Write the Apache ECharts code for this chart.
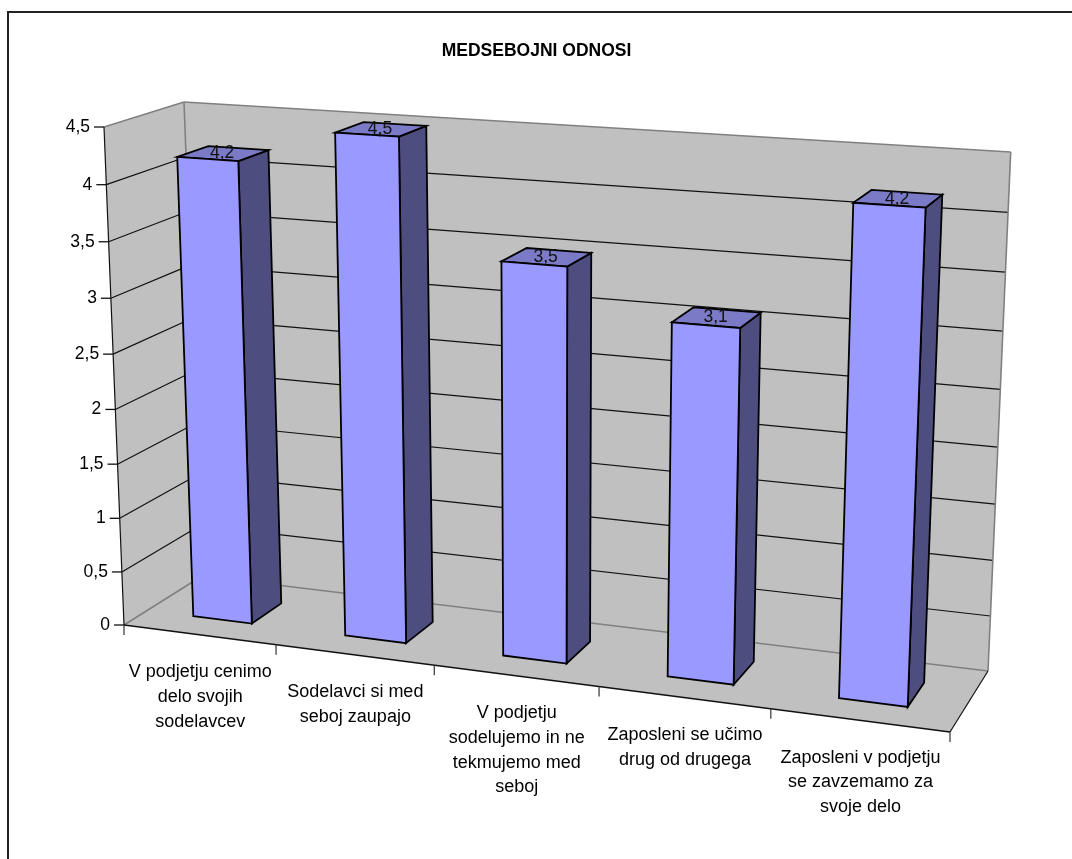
<!DOCTYPE html>
<html>
<head>
<meta charset="utf-8">
<style>html,body{margin:0;padding:0;background:#fff}#chart{width:1072px;height:859px}</style>
<script src="https://cdn.jsdelivr.net/npm/echarts@6/dist/echarts.min.js"></script>
</head>
<body>
<div id="chart"></div>
<script>
const chartTitle = 'MEDSEBOJNI ODNOSI';
const categories = [
  'V podjetju cenimo\ndelo svojih\nsodelavcev',
  'Sodelavci si med\nseboj zaupajo',
  'V podjetju\nsodelujemo in ne\ntekmujemo med\nseboj',
  'Zaposleni se učimo\ndrug od drugega',
  'Zaposleni v podjetju\nse zavzemamo za\nsvoje delo'
];
const scores = [4.2, 4.5, 3.5, 3.1, 4.2];
const valueTicks = [0, 0.5, 1, 1.5, 2, 2.5, 3, 3.5, 4, 4.5];

// Corners of the 3D plot box on screen: [bottom-left, bottom-right, top-right, top-left]
const frontPlane = [[124, 625], [950, 732], [972, 183], [104, 127]];
const backPlane = [[202, 576], [988, 671], [1010.7, 152], [184, 102]];
// A bar's extent inside its category band (from the band centre) and inside the box depth
const barLeft = -0.19, barRight = 0.2;
const barFront = 0.3, barBack = 0.7;
const FONT = '"Liberation Sans", Arial, sans-serif';
const FONT_SIZE = 17.5;
const CATEGORY_FONT_SIZE = 18;

// Homography from the unit square onto a quadrilateral
function unitSquareMap(q) {
  const [[x0, y0], [x1, y1], [x2, y2], [x3, y3]] = q;
  const dx1 = x1 - x2, dx2 = x3 - x2, sx = x0 - x1 + x2 - x3;
  const dy1 = y1 - y2, dy2 = y3 - y2, sy = y0 - y1 + y2 - y3;
  const det = dx1 * dy2 - dx2 * dy1;
  const g = (sx * dy2 - dx2 * sy) / det;
  const h = (dx1 * sy - sx * dy1) / det;
  const a = x1 - x0 + g * x1, b = x3 - x0 + h * x3;
  const d = y1 - y0 + g * y1, e = y3 - y0 + h * y3;
  return (u, v) => {
    const w = g * u + h * v + 1;
    return [(a * u + b * v + x0) / w, (d * u + e * v + y0) / w];
  };
}
const frontMap = unitSquareMap(frontPlane);
const backMap = unitSquareMap(backPlane);

// Hidden cartesian rectangle: its scales turn data into unit coordinates
const gridRect = { left: 100, top: 100, width: 800, height: 500 };
const bandUnit = 1 / categories.length;

function toUnit(pt) {
  return [(pt[0] - gridRect.left) / gridRect.width,
          (gridRect.top + gridRect.height - pt[1]) / gridRect.height];
}
function project(u, v, depth) {
  const f = frontMap(u, v), b = backMap(u, v);
  return [f[0] + (b[0] - f[0]) * depth, f[1] + (b[1] - f[1]) * depth];
}
function poly(points, fill, stroke, lw) {
  return { type: 'polygon', shape: { points },
    style: { fill, stroke: stroke || null, lineWidth: lw || 0, lineJoin: 'miter' } };
}
function seg(a, b, stroke, lw) {
  return { type: 'line', shape: { x1: a[0], y1: a[1], x2: b[0], y2: b[1] },
    style: { stroke, lineWidth: lw || 1, fill: null } };
}
function label(text, x, y, align, size, fill) {
  return { type: 'text', x, y, silent: true,
    style: { text, fill: fill || '#000', font: (size || FONT_SIZE) + 'px ' + FONT,
      align, verticalAlign: 'middle' } };
}

// Walls, floor, grid lines, axis ticks and axis labels
function renderFrame(params, api) {
  const wall = '#c0c0c0', edge = '#808080';
  const children = [];
  children.push(poly([project(0, 0, 0), project(0, 0, 1), project(0, 1, 1), project(0, 1, 0)], wall));
  children.push(poly([project(0, 0, 1), project(1, 0, 1), project(1, 1, 1), project(0, 1, 1)], wall));
  children.push(poly([project(0, 0, 0), project(1, 0, 0), project(1, 0, 1), project(0, 0, 1)], wall));

  valueTicks.forEach(tick => {
    const v = toUnit(api.coord([0, tick]))[1];
    const top = tick === valueTicks[valueTicks.length - 1];
    const base = tick === 0;
    const col = base || top ? edge : '#111';
    const lw = base || top ? 1.6 : 1.2;
    children.push(seg(project(0, v, 0), project(0, v, 1), col, lw));
    children.push(seg(project(0, v, 1), project(1, v, 1), col, lw));
    const p = project(0, v, 0);
    children.push(seg([p[0] - 10, p[1]], p, '#111', 1.3));
    children.push(label(String(tick).replace('.', ','), p[0] - 14, p[1], 'right'));
  });
  children.push(seg(project(0, 0, 1), project(0, 1, 1), edge, 1.6));
  children.push(seg(project(1, 0, 1), project(1, 1, 1), edge, 1.6));
  children.push(seg(project(0, 0, 0), project(0, 1, 0), '#111', 1.2));
  children.push(seg(project(0, 0, 0), project(1, 0, 0), '#111', 1.4));
  children.push(seg(project(1, 0, 0), project(1, 0, 1), '#111', 1.2));

  // Category ticks and wrapped labels below the front edge of the floor
  for (let i = 0; i <= categories.length; i++) {
    const p = project(i * bandUnit, 0, 0);
    children.push(seg(p, [p[0], p[1] + 10], '#333', 1.2));
  }
  categories.forEach((name, i) => {
    const c = toUnit(api.coord([i, 0]))[0];
    const p = project(c, 0, 0);
    name.split('\n').forEach((line, k) => {
      children.push(label(line, p[0] + 1, p[1] + 37.5 + k * 24.7, 'center', CATEGORY_FONT_SIZE));
    });
  });
  return { type: 'group', children };
}

// One solid bar: top, front and side faces plus the value on the lid
function renderBar(params, api) {
  const idx = api.value(0), val = api.value(1);
  const uc = toUnit(api.coord([idx, val]));
  const u0 = uc[0] + bandUnit * barLeft, u1 = uc[0] + bandUnit * barRight, v = uc[1];
  const line = '#000', lw = 1.8;
  const lidCentre = project(uc[0], v, 0.5);
  return { type: 'group', children: [
    poly([project(u1, 0, barFront), project(u1, 0, barBack), project(u1, v, barBack), project(u1, v, barFront)], '#4d4d80', line, lw),
    poly([project(u0, v, barFront), project(u1, v, barFront), project(u1, v, barBack), project(u0, v, barBack)], '#7a7ac6', line, lw),
    poly([project(u0, 0, barFront), project(u1, 0, barFront), project(u1, v, barFront), project(u0, v, barFront)], '#9999ff', line, lw),
    label(String(val).replace('.', ','), lidCentre[0], lidCentre[1], 'center', FONT_SIZE, '#111')
  ] };
}

const chart = echarts.init(document.getElementById('chart'), null, { renderer: 'canvas' });
chart.setOption({
  animation: false,
  backgroundColor: '#fff',
  title: {
    text: chartTitle, left: 531.5, top: 37, textAlign: 'center',
    textStyle: { fontFamily: FONT, fontSize: FONT_SIZE, fontWeight: 'bold', color: '#000' }
  },
  grid: Object.assign({ containLabel: false }, gridRect),
  xAxis: { type: 'category', data: categories, show: false },
  yAxis: { type: 'value', min: 0, max: 4.5, interval: 0.5, show: false },
  graphic: [
    { type: 'polyline', silent: true,
      shape: { points: [[8, 859], [8, 12], [1072, 12]] },
      style: { stroke: '#222', lineWidth: 2, fill: null } }
  ],
  series: [
    { type: 'custom', name: 'okvir', silent: true, clip: false, z: 1,
      data: [[0, 0]], renderItem: renderFrame },
    { type: 'custom', name: 'Medsebojni odnosi', silent: true, clip: false, z: 2,
      data: scores.map((s, i) => [i, s]), encode: { x: 0, y: 1 }, renderItem: renderBar }
  ]
});
</script>
</body>
</html>
